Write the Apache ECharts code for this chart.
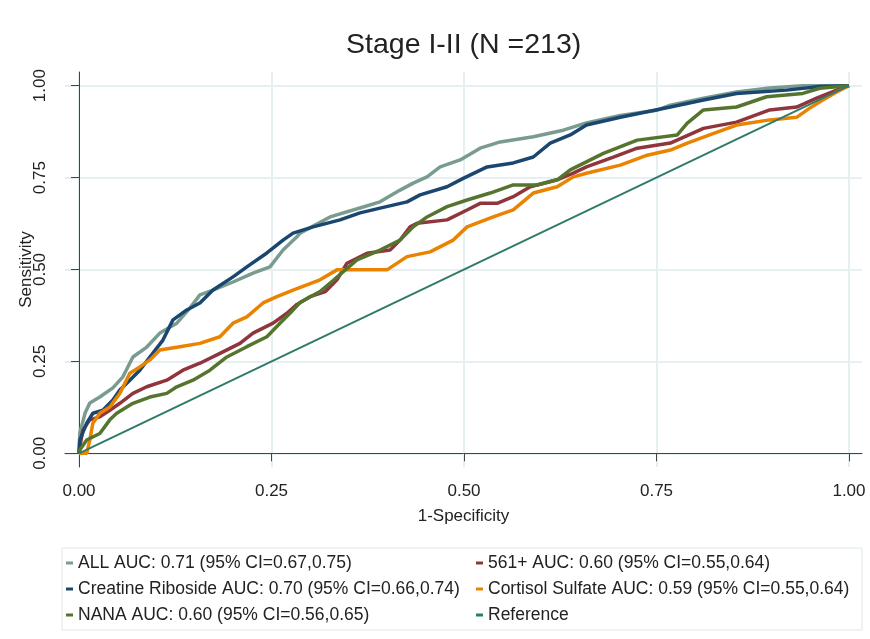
<!DOCTYPE html>
<html>
<head>
<meta charset="utf-8">
<title>Stage I-II ROC</title>
<script src="https://cdn.jsdelivr.net/npm/echarts@6/dist/echarts.min.js"></script>
<style>
  html, body { margin: 0; padding: 0; background: #fff; }
  #chart { width: 870px; height: 639px; }
</style>
</head>
<body>
<div id="chart"></div>
<script>
// ROC curves: [1-specificity, sensitivity]
const allCurve = [
  [0, 0], [0.001, 0.055], [0.008, 0.11], [0.014, 0.137], [0.027, 0.153], [0.044, 0.178],
  [0.057, 0.208], [0.07, 0.262], [0.088, 0.289], [0.105, 0.327], [0.127, 0.354], [0.144, 0.395],
  [0.157, 0.431], [0.174, 0.444], [0.2, 0.466], [0.226, 0.49], [0.248, 0.507], [0.265, 0.553],
  [0.283, 0.589], [0.287, 0.599], [0.326, 0.643], [0.369, 0.67], [0.391, 0.684], [0.417, 0.716],
  [0.434, 0.735], [0.452, 0.752], [0.469, 0.779], [0.495, 0.798], [0.521, 0.83], [0.547, 0.847],
  [0.59, 0.861], [0.629, 0.879], [0.659, 0.899], [0.703, 0.919], [0.75, 0.933], [0.768, 0.947],
  [0.811, 0.966], [0.854, 0.983], [0.897, 0.994], [0.94, 1], [1, 1]
]
const m561Curve = [
  [0, 0], [0.001, 0.017], [0.005, 0.063], [0.014, 0.091], [0.027, 0.099], [0.04, 0.117],
  [0.053, 0.136], [0.07, 0.163], [0.088, 0.181], [0.114, 0.199], [0.135, 0.226], [0.157, 0.245],
  [0.183, 0.272], [0.209, 0.299], [0.226, 0.327], [0.252, 0.354], [0.27, 0.381], [0.283, 0.405],
  [0.3, 0.426], [0.32, 0.44], [0.335, 0.472], [0.348, 0.517], [0.374, 0.544], [0.404, 0.553],
  [0.417, 0.58], [0.43, 0.616], [0.439, 0.626], [0.478, 0.635], [0.504, 0.662], [0.521, 0.68],
  [0.543, 0.68], [0.564, 0.698], [0.586, 0.725], [0.621, 0.744], [0.642, 0.762], [0.659, 0.779],
  [0.694, 0.806], [0.725, 0.83], [0.768, 0.844], [0.811, 0.884], [0.854, 0.901], [0.897, 0.934],
  [0.932, 0.942], [0.958, 0.966], [0.984, 0.988], [1, 1]
]
const creatineCurve = [
  [0, 0], [0.001, 0.036], [0.01, 0.082], [0.018, 0.109], [0.031, 0.117], [0.044, 0.145],
  [0.053, 0.172], [0.066, 0.199], [0.079, 0.226], [0.092, 0.262], [0.109, 0.308], [0.122, 0.363],
  [0.14, 0.39], [0.157, 0.409], [0.174, 0.444], [0.2, 0.48], [0.218, 0.507], [0.244, 0.545],
  [0.265, 0.58], [0.278, 0.599], [0.304, 0.616], [0.339, 0.635], [0.365, 0.654], [0.391, 0.667],
  [0.426, 0.684], [0.443, 0.703], [0.478, 0.725], [0.499, 0.748], [0.53, 0.779], [0.564, 0.79],
  [0.59, 0.806], [0.612, 0.844], [0.638, 0.866], [0.659, 0.893], [0.703, 0.914], [0.768, 0.942],
  [0.811, 0.961], [0.854, 0.979], [0.919, 0.988], [0.962, 0.998], [1, 1]
]
const cortisolCurve = [
  [0, 0], [0.01, 0], [0.014, 0.036], [0.018, 0.082], [0.027, 0.109], [0.04, 0.126],
  [0.053, 0.163], [0.066, 0.218], [0.079, 0.235], [0.092, 0.254], [0.105, 0.281], [0.131, 0.29],
  [0.157, 0.299], [0.183, 0.317], [0.2, 0.354], [0.218, 0.371], [0.239, 0.409], [0.257, 0.426],
  [0.278, 0.444], [0.313, 0.472], [0.335, 0.499], [0.4, 0.499], [0.426, 0.535], [0.456, 0.548],
  [0.486, 0.58], [0.504, 0.616], [0.538, 0.643], [0.564, 0.662], [0.59, 0.708], [0.621, 0.725],
  [0.642, 0.752], [0.659, 0.762], [0.703, 0.784], [0.738, 0.811], [0.768, 0.825], [0.79, 0.844],
  [0.819, 0.866], [0.854, 0.893], [0.897, 0.907], [0.932, 0.914], [0.949, 0.939], [0.966, 0.961],
  [0.984, 0.983], [1, 1]
]
const nanaCurve = [
  [0, 0], [0.001, 0.009], [0.01, 0.036], [0.027, 0.054], [0.04, 0.091], [0.049, 0.109],
  [0.07, 0.136], [0.092, 0.153], [0.114, 0.163], [0.127, 0.181], [0.148, 0.199], [0.17, 0.226],
  [0.192, 0.262], [0.218, 0.29], [0.244, 0.317], [0.261, 0.354], [0.274, 0.381], [0.287, 0.41],
  [0.313, 0.44], [0.33, 0.47], [0.361, 0.526], [0.391, 0.553], [0.417, 0.58], [0.434, 0.616],
  [0.452, 0.643], [0.478, 0.671], [0.504, 0.689], [0.534, 0.708], [0.564, 0.73], [0.595, 0.73],
  [0.621, 0.744], [0.638, 0.771], [0.681, 0.816], [0.725, 0.852], [0.777, 0.866], [0.79, 0.898],
  [0.811, 0.934], [0.854, 0.942], [0.893, 0.97], [0.94, 0.979], [0.962, 0.993], [1, 1]
]
const referenceLine = [[0, 0], [1, 1]]

const seriesNames = [
  'ALL AUC: 0.71 (95% CI=0.67,0.75)',
  '561+ AUC: 0.60 (95% CI=0.55,0.64)',
  'Creatine Riboside AUC: 0.70 (95% CI=0.66,0.74)',
  'Cortisol Sulfate AUC: 0.59 (95% CI=0.55,0.64)',
  'NANA AUC: 0.60 (95% CI=0.56,0.65)',
  'Reference'
]
const seriesColors = ['#7a9b90', '#90353b', '#1a476f', '#e98300', '#55752f', '#2f7b6a']
const tickValues = [0, 0.25, 0.5, 0.75, 1]

const curves = [allCurve, m561Curve, creatineCurve, cortisolCurve, nanaCurve, referenceLine]
const font = '"Liberation Sans", Arial, sans-serif'

const chart = echarts.init(document.getElementById('chart'))

const axisCommon = {
  type: 'value',
  nameLocation: 'middle',
  nameMoveOverlap: false,
  nameTextStyle: { fontFamily: font, fontSize: 17, color: '#222' },
  axisLine: { show: true, lineStyle: { color: '#444', width: 1 } },
  axisTick: { show: true, length: 8, customValues: tickValues, lineStyle: { color: '#444' } },
  axisLabel: {
    customValues: tickValues,
    fontFamily: font,
    fontSize: 17,
    color: '#222',
    margin: 16,
    formatter: v => v.toFixed(2)
  },
  splitLine: { show: true, lineStyle: { color: '#e6eff2', width: 2 } }
}

chart.setOption({
  backgroundColor: '#fff',
  animation: false,
  title: {
    text: 'Stage I-II (N =213)',
    left: 346,
    top: 31,
    padding: 0,
    textStyle: { fontFamily: font, fontSize: 28.5, fontWeight: 'normal', color: '#222' }
  },
  grid: { left: 65, right: 8, top: 72, bottom: 172, containLabel: false },
  xAxis: Object.assign({}, axisCommon, {
    min: -0.0182,
    max: 1.0169,
    name: '1-Specificity',
    nameGap: 41
  }),
  yAxis: Object.assign({}, axisCommon, {
    min: -0.0373,
    max: 1.0373,
    name: 'Sensitivity',
    nameGap: 30,
    axisLabel: Object.assign({}, axisCommon.axisLabel, { rotate: 90 })
  }),
  legend: {
    left: 62,
    top: 548,
    orient: 'horizontal',
    width: 800,
    padding: [6, 10, 6, 4],
    itemGap: 8,
    itemWidth: 7,
    itemHeight: 3,
    icon: 'rect',
    borderColor: '#dde8ec',
    borderWidth: 1,
    data: seriesNames,
    formatter: name => {
      const col = seriesNames.indexOf(name) % 2 === 0 ? 'a' : 'b'
      return '{' + col + '|' + name + '}'
    },
    textStyle: {
      fontFamily: font,
      fontSize: 17.5,
      lineHeight: 18,
      color: '#222',
      rich: {
        a: { width: 390, lineHeight: 18, fontFamily: font, fontSize: 17.5, color: '#222' },
        b: { width: 364, lineHeight: 18, fontFamily: font, fontSize: 17.5, color: '#222' }
      }
    }
  },
  series: curves.map((data, i) => ({
    name: seriesNames[i],
    type: 'line',
    data: data,
    showSymbol: false,
    symbol: 'none',
    color: seriesColors[i],
    lineStyle: { width: i === 5 ? 2 : 3.5, color: seriesColors[i] },
    z: 2 + i
  }))
})
</script>
</body>
</html>
